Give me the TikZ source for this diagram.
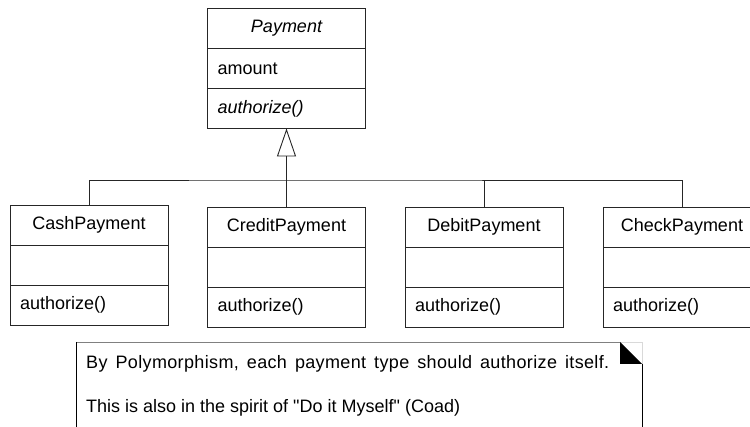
\documentclass[tikz,border=0pt]{standalone}
\usepackage{fontspec}
\setmainfont{Liberation Sans}
\usetikzlibrary{positioning,arrows.meta}
\begin{document}
\begin{tikzpicture}[x=1pt, y=-1pt, font=\fontsize{18}{22}\selectfont,
  >={Triangle[open,length=28pt,width=19pt]},
  cname/.style={draw=black!85, outer sep=0pt, inner sep=0pt, minimum width=158pt, minimum height=40pt},
  ccomp/.style={draw=black!85, outer sep=0pt, inner xsep=10pt, inner ysep=0pt, minimum height=40pt, text width=138pt, align=left},
  link/.style={draw=black!85, line width=0.9pt},
  notetext/.style={anchor=west, inner sep=0pt}]
  \useasboundingbox (0,0) rectangle (750,427);
  \clip (0,0) rectangle (750,427);

  % Superclass
  \node[cname] (pay) at (286.5,28.5) {\itshape Payment};
  \node[ccomp, below=0pt of pay] (payAttr) {amount};
  \node[ccomp, below=0pt of payAttr] (payOps) {\itshape authorize()};

  % Subclasses
  \node[cname] (cash) at (89,225) {CashPayment};
  \node[ccomp, below=0pt of cash] (cashAttr) {};
  \node[ccomp, below=0pt of cashAttr] (cashOps) {authorize()};

  \node[cname] (credit) at (286.5,227) {CreditPayment};
  \node[ccomp, below=0pt of credit] (creditAttr) {};
  \node[ccomp, below=0pt of creditAttr] (creditOps) {authorize()};

  \node[cname] (debit) at (484,227) {DebitPayment};
  \node[ccomp, below=0pt of debit] (debitAttr) {};
  \node[ccomp, below=0pt of debitAttr] (debitOps) {authorize()};

  \node[cname] (check) at (682,227) {CheckPayment};
  \node[ccomp, below=0pt of check] (checkAttr) {};
  \node[ccomp, below=0pt of checkAttr] (checkOps) {authorize()};

  % Generalization
  \coordinate (bus) at (286.5,180);
  \draw[link] (cash.north) |- (bus) -| (check.north);
  \draw[link] (debit.north) -- (debit.north |- bus);
  \draw[link,->] (credit.north) -- (payOps.south);

  % Note
  \draw[black!50, line width=0.9pt] (76,342) -- (620,342);
  \draw[black!15] (620,342) -- (642,342) -- (642,364);
  \fill (620,342) -- (620,364) -- (642,364) -- cycle;
  \draw[line width=0.9pt] (76,342) -- (76,440);
  \draw[line width=0.9pt] (642,364) -- (642,440);
  \node[notetext] (noteA) at (86,364) {\addfontfeatures{LetterSpace=2}\spaceskip=8pt By Polymorphism, each payment type should authorize itself.};
  \node[notetext] (noteB) at (86,408) {This is also in the spirit of \textquotedbl Do it Myself\textquotedbl\ (Coad)};
\end{tikzpicture}
\end{document}
